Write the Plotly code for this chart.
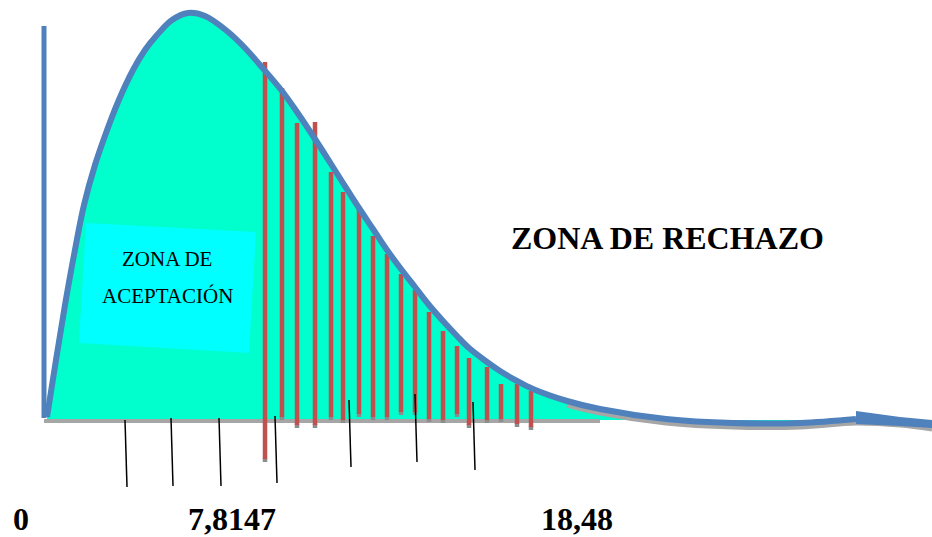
import plotly.graph_objects as go

# Drawn density curve (diagram units: x to the right, y downward)
curve_x = [47, 56, 65, 74, 84, 95, 106, 118, 133, 145, 157, 172, 188, 205, 227, 245, 260, 282,
           297, 315, 331, 343, 359, 373, 387, 401, 415, 429, 443, 457, 469, 487, 500, 517, 533,
           567, 600, 666, 733, 800, 856]
curve_y = [417, 360, 305, 255, 205, 165, 133, 102, 70, 50, 35, 20, 13, 16, 31, 48, 65, 91,
           112, 139, 164, 183, 208, 229, 250, 269, 287, 305, 321, 336, 348, 362, 371, 381, 389,
           401, 409, 419, 423, 423, 419]

# arrow tail of the curve
arrow_x = [856, 900, 932, 932, 900, 856]
arrow_y = [411, 417, 420, 428, 426, 424]

# vertical axis stub and base line
axis_x = [44, 44]
axis_y = [26, 418]
base_x = [44, 600]
base_y = [421, 421]
fill_base_x = [47, 856]
fill_base_y = [420, 420]

# red hatching of the rejection zone
red_x = [265, 282, 297, 315, 331, 343, 359, 373, 387, 401, 415, 429, 443, 457, 469, 487, 501, 517, 531]
red_top = [62, 88, 123, 122, 172, 192, 208, 236, 254, 274, 290, 312, 331, 346, 358, 367, 384, 384, 391]
red_bot = [462, 420, 428, 428, 420, 423, 417, 420, 420, 415, 415, 422, 423, 417, 428, 423, 422, 427, 430]

# thin black tick strokes
tick_x0 = [125, 171, 219, 275, 349, 415, 473]
tick_y0 = [420, 418, 418, 416, 400, 394, 402]
tick_x1 = [127, 173, 221, 277, 351, 417, 475]
tick_y1 = [487, 486, 486, 483, 467, 462, 470]

# acceptance box (slightly rotated)
box_x = [86, 256, 249, 79]
box_y = [223, 232, 353, 343]

labels = ["0", "7,8147", "18,48"]
label_x = [21, 232, 577]
label_y = [519, 519, 519]

fig = go.Figure()

# fill under the curve (between base and curve)
fig.add_trace(go.Scatter(x=fill_base_x, y=fill_base_y, mode="lines", line=dict(width=0),
                         hoverinfo="skip"))
fig.add_trace(go.Scatter(x=curve_x, y=curve_y, fill="tonexty", fillcolor="#00FFCC",
                         line=dict(width=0, shape="spline"), mode="lines", hoverinfo="skip"))
# acceptance box
fig.add_trace(go.Scatter(x=box_x + [box_x[0]], y=box_y + [box_y[0]], fill="toself",
                         fillcolor="#00FFFF", line=dict(width=0), mode="lines", hoverinfo="skip"))
# base line and curve shadow
fig.add_trace(go.Scatter(x=base_x, y=base_y, mode="lines", line=dict(color="#A6A6A6", width=4),
                         hoverinfo="skip"))
tail_idx = [i for i, v in enumerate(curve_x) if v >= 567]
fig.add_trace(go.Scatter(x=[curve_x[i] for i in tail_idx] + [900, 932],
                         y=[curve_y[i] + 4 for i in tail_idx] + [425, 429],
                         mode="lines", line=dict(color="#A6A6A6", width=5, shape="spline"),
                         hoverinfo="skip"))

# red hatching with grey tips
gx, gy, rx, ry = [], [], [], []
for x, t, b in zip(red_x, red_top, red_bot):
    gx += [x, x, None]
    gy += [b - 4, b, None]
    rx += [x, x, None]
    ry += [t, b - 3, None]
fig.add_trace(go.Scatter(x=gx, y=gy, mode="lines", line=dict(color="#8C8C8C", width=4.5),
                         hoverinfo="skip"))
fig.add_trace(go.Scatter(x=rx, y=ry, mode="lines", line=dict(color="#C0504D", width=4.5),
                         hoverinfo="skip"))

# blue curve, arrow, axis stub
fig.add_trace(go.Scatter(x=curve_x, y=curve_y, mode="lines",
                         line=dict(color="#4F81BD", width=6, shape="spline"),
                         hoverinfo="skip"))
fig.add_trace(go.Scatter(x=arrow_x + [arrow_x[0]], y=arrow_y + [arrow_y[0]], fill="toself",
                         fillcolor="#4F81BD", line=dict(width=0), mode="lines", hoverinfo="skip"))
fig.add_trace(go.Scatter(x=axis_x, y=axis_y, mode="lines", line=dict(color="#4F81BD", width=5),
                         hoverinfo="skip"))

# black ticks
kx, ky = [], []
for a, b, c, d in zip(tick_x0, tick_y0, tick_x1, tick_y1):
    kx += [a, c, None]
    ky += [b, d, None]
fig.add_trace(go.Scatter(x=kx, y=ky, mode="lines", line=dict(color="black", width=1.5),
                         hoverinfo="skip"))

serif = "Liberation Serif, Times New Roman, serif"
ann = [
    dict(x=167, y=259, text="ZONA DE", font=dict(family=serif, size=21, color="black")),
    dict(x=167, y=296, text="ACEPTACIÓN", font=dict(family=serif, size=21, color="black")),
    dict(x=667, y=238, text="ZONA DE RECHAZO",
         font=dict(family=serif, size=32, color="black", weight="bold")),
]
for t, x, y in zip(labels, label_x, label_y):
    ann.append(dict(x=x, y=y, text=t, font=dict(family=serif, size=32, color="black", weight="bold")))
for a in ann:
    a.update(xref="x", yref="y", showarrow=False, xanchor="center", yanchor="middle")

fig.update_layout(
    width=932, height=537, margin=dict(l=0, r=0, t=0, b=0),
    paper_bgcolor="white", plot_bgcolor="white", showlegend=False,
    xaxis=dict(range=[0, 932], visible=False, fixedrange=True),
    yaxis=dict(range=[537, 0], visible=False, fixedrange=True),
    annotations=ann,
)
fig.write_html("out.html", config={"displayModeBar": False})

# remove default page margin so the figure sits at the window origin
with open("out.html", encoding="utf-8") as f:
    html = f.read()
html = html.replace("<head>", "<head><style>html,body{margin:0;padding:0;overflow:hidden;}</style>", 1)
with open("out.html", "w", encoding="utf-8") as f:
    f.write(html)
